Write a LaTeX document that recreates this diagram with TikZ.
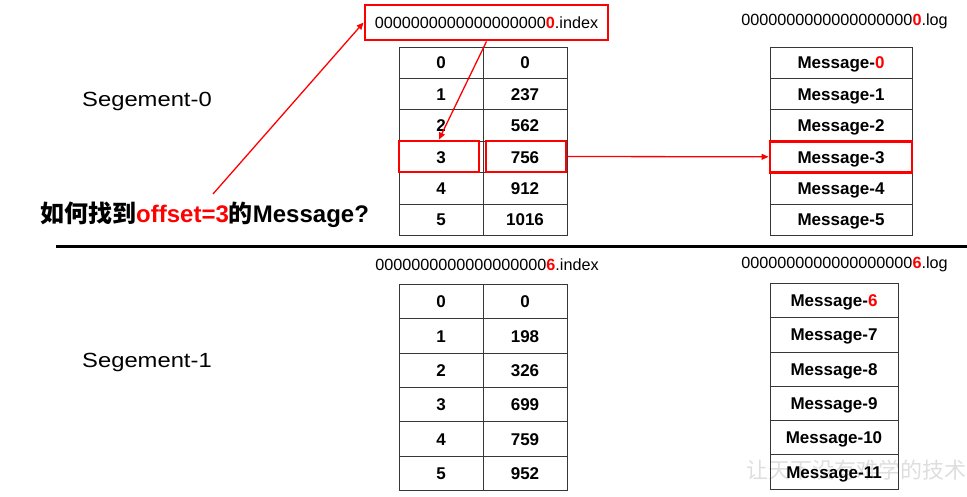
\documentclass[tikz,border=0pt]{standalone}
\usepackage{fontspec}
\setmainfont{Liberation Sans}
\newfontfamily\cjk{Noto Sans CJK SC}
\newfontfamily\segfont{Liberation Sans}[FakeStretch=1.16]
\usetikzlibrary{arrows.meta}
\definecolor{hred}{RGB}{255,0,0}
\definecolor{gridc}{RGB}{55,55,55}
\tikzset{
 cellbox/.style 2 args={draw=gridc, line width=0.9pt, inner sep=0pt, minimum width=#1, minimum height=#2, text height=12.2pt, text depth=0pt, font=\fontsize{17}{17}\selectfont\bfseries},
 hlbox/.style 2 args={draw=hred, line width=2.9pt, inner sep=0pt, minimum width=#1, minimum height=#2},
 redarrow/.style={draw=hred, line width=1.3pt, -{Triangle[length=7pt,width=6pt]}},
 fname/.style={font=\fontsize{16.2}{16}\selectfont, inner sep=0pt, text height=11.6pt, text depth=0pt},
 seglabel/.style={font=\segfont\fontsize{20.5}{20}\selectfont, inner sep=0pt, anchor=west, text height=14.7pt, text depth=0pt},
}
\begin{document}
\begin{tikzpicture}[x=1pt,y=-1pt]
\useasboundingbox (0,0) rectangle (967,496);
% watermark
\node[text=black!13, font=\cjk\fontsize{22}{22}\selectfont, inner sep=0pt] (wm) at (856,470) {让天下没有难学的技术};
% segment labels
\node[seglabel] (seg0) at (82,99.5) {Segement-0};
\node[seglabel] (seg1) at (82,360) {Segement-1};
% file names
\node[fname, draw=hred, line width=2.9pt, minimum width=243, minimum height=35] (lab0) at (486.5,22.5) {0000000000000000000\textcolor{hred}{\bfseries 0}.index};
\node[fname] (log0) at (844.5,20) {0000000000000000000\textcolor{hred}{\bfseries 0}.log};
\node[fname] (lab1) at (487,265) {0000000000000000000\textcolor{hred}{\bfseries 6}.index};
\node[fname] (log1) at (844.5,263) {0000000000000000000\textcolor{hred}{\bfseries 6}.log};
% segment 0 index table
\foreach \i/\v in {0/0,1/237,2/562,3/756,4/912,5/1016} {
  \node[cellbox={84}{31.4}] (ia\i) at (441,62.7+31.4*\i) {\i};
  \node[cellbox={84}{31.4}] (ib\i) at (525,62.7+31.4*\i) {\v};
}
% segment 0 log table
\node[cellbox={142}{31.4}] (m0) at (841,62.7) {Message-\textcolor{hred}{0}};
\foreach \i in {1,...,5} {
  \node[cellbox={142}{31.4}] (m\i) at (841,62.7+31.4*\i) {Message-\i};
}
% segment 1 index table
\foreach \i/\v in {0/0,1/198,2/326,3/699,4/759,5/952} {
  \node[cellbox={84}{34.4}] (ja\i) at (441,301.5+34.4*\i) {\i};
  \node[cellbox={84}{34.4}] (jb\i) at (525,301.5+34.4*\i) {\v};
}
% segment 1 log table
\node[cellbox={128}{34.3}] (n0) at (834,300.5) {Message-\textcolor{hred}{6}};
\foreach \i/\k in {1/7,2/8,3/9,4/10,5/11} {
  \node[cellbox={128}{34.3}] (n\i) at (834,300.5+34.3*\i) {Message-\k};
}
% highlight boxes
\node[hlbox={80}{31}] (h3) at (439,156.5) {};
\node[hlbox={80}{31}] (h756) at (526,156.5) {};
\node[hlbox={142}{31}] (hm3) at (841,156.8) {};
% question
\node[anchor=west, inner sep=0pt, text height=17.2pt, text depth=0pt, font=\fontsize{24}{24}\selectfont\bfseries] (q) at (40,214) {{\cjk\bfseries 如何找到}\textcolor{hred}{offset=3}{\cjk\bfseries 的}Message?};
% separator
\coordinate (sepL) at (56,246);
\coordinate (sepR) at (967,246);
\draw[line width=3pt] (sepL) -- (sepR);
% arrows
\coordinate (qs) at (213,194);
\draw[redarrow] (qs) -- (lab0.west);
\draw[redarrow] (lab0.south) -- (h3.north);
\draw[redarrow] (h756.east) -- (hm3.west);
\end{tikzpicture}
\end{document}
